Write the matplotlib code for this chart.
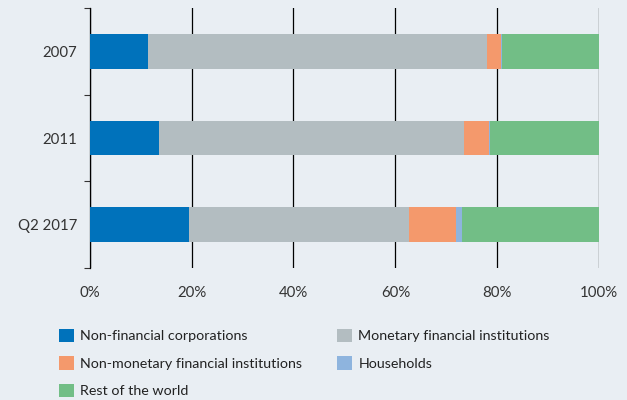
import numpy as np
import matplotlib.pyplot as plt

plt.rcParams['font.family'] = ['Lato', 'DejaVu Sans']

periods = ['Q2 2017', '2011', '2007']
sectors = ['Non-financial corporations', 'Monetary financial institutions',
           'Non-monetary financial institutions', 'Households',
           'Rest of the world']
# shares in percent, one list per sector, same order as periods
non_fin_corp = [19.5, 13.7, 11.4]
monetary_fi = [43.2, 59.8, 66.5]
non_monetary_fi = [9.2, 4.9, 2.8]
households = [1.2, 0.1, 0.2]
rest_of_world = [26.9, 21.5, 19.1]
colors = ['#0072bb', '#b3bdc1', '#f4996c', '#8eb4de', '#72be86']

bg = '#e9eef3'
fig = plt.figure(figsize=(6.27, 4.0), dpi=100, facecolor=bg)
ax = fig.add_axes([0.1429, 0.33, 0.8129, 0.65], facecolor=bg)

y = np.arange(len(periods))
left = np.zeros(len(periods))
bars = []
for name, vals, c in zip(sectors,
                         [non_fin_corp, monetary_fi, non_monetary_fi,
                          households, rest_of_world], colors):
    b = ax.barh(y, vals, left=left, height=0.4, color=c, label=name, zorder=3)
    bars.append(b)
    left += np.array(vals)

ax.set_xlim(0, 100)
ax.set_ylim(-0.5, 2.5)
ax.set_xticks([0, 20, 40, 60, 80, 100])
ax.set_xticklabels(['0%', '20%', '40%', '60%', '80%', '100%'])
ax.set_yticks(y, minor=True)
ax.set_yticklabels(periods, minor=True)
ax.set_yticks([-0.5, 0.5, 1.5, 2.5])
ax.set_yticklabels([])
ax.tick_params(axis='y', which='major', length=4, width=0.8, color='#333333')
ax.tick_params(axis='y', which='minor', length=0, pad=9, labelsize=10.8,
               labelcolor='#333333')
ax.tick_params(axis='x', length=0, pad=13, labelsize=10.8, labelcolor='#333333')
ax.grid(axis='x', color='black', linewidth=0.9, zorder=0)
for s in ['top', 'right', 'bottom']:
    ax.spines[s].set_visible(False)
ax.spines['left'].set_linewidth(0.9)

order = [0, 2, 4, 1, 3]
leg = fig.legend([bars[i] for i in order], [sectors[i] for i in order],
                 ncol=2, loc='upper left', bbox_to_anchor=(0.085, 0.1925),
                 frameon=False, fontsize=10.3, handlelength=1.05,
                 handleheight=1.05, handletextpad=0.45, columnspacing=2.4,
                 labelspacing=0.98, borderaxespad=0, labelcolor='#222222')

fig.savefig('out.png', dpi=100, facecolor=bg)
